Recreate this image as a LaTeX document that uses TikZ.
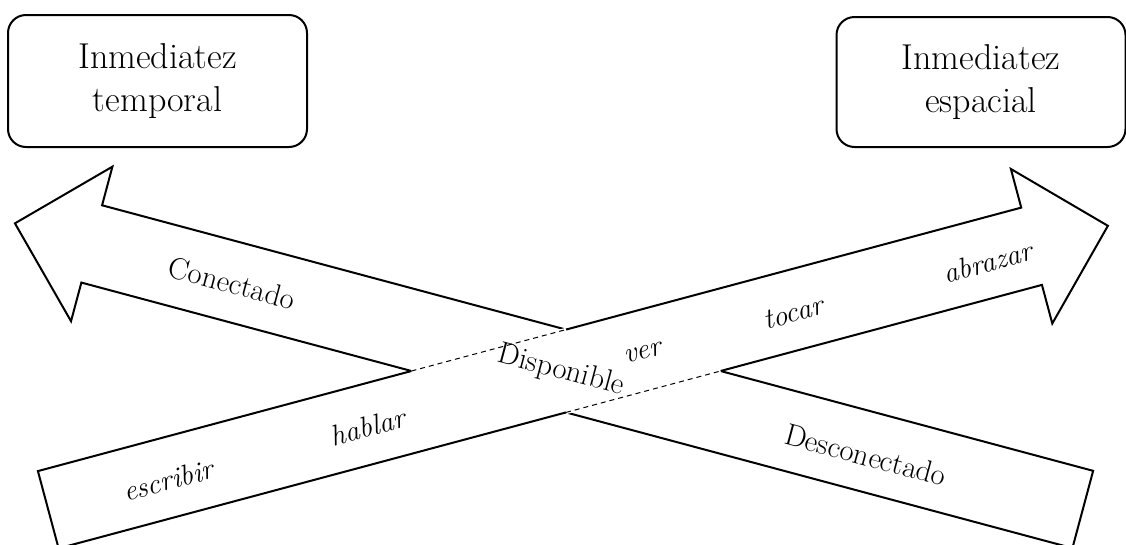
\documentclass[tikz,border=0pt]{standalone}
\usepackage{fontspec}
\tikzset{
  titlebox/.style={draw, line width=2pt, rounded corners=18pt, minimum width=299pt,
    minimum height=132pt, align=center, inner sep=0pt,
    font={\fontsize{36}{43}\selectfont}},
  bigarrow/.style={draw, fill=white, line width=2pt, line join=miter},
  lab/.style={inner sep=0pt, font={\fontsize{30.5}{36}\selectfont}},
  ilab/.style={inner sep=0pt, font={\fontsize{29}{35}\selectfont\itshape}},
  hiddenedge/.style={white, line width=3.6pt},
  dashedge/.style={black, line width=1pt, dash pattern=on 5pt off 4pt}
}
\begin{document}
\begin{tikzpicture}[x=1pt, y=1pt]
  \useasboundingbox (0,0) rectangle (1126,-544);

  % title boxes
  \node[titlebox] (tbox) at (157.5,-81) {Inmediatez\\temporal};
  \node[titlebox, minimum width=289pt, minimum height=130pt] (ebox) at (981,-82) {Inmediatez\\espacial};

  % arrow 1 (pointing to the upper left)
  \begin{scope}[shift={(566,-371)}, rotate=165]
    \draw[bigarrow] (-535,40) -- (491,40) -- (491,80) -- (570.5,0)
      -- (491,-80) -- (491,-40) -- (-535,-40) -- cycle;
  \end{scope}

  % arrow 2 (pointing to the upper right)
  \begin{scope}[shift={(566,-371)}, rotate=15]
    \draw[bigarrow] (-536,40) -- (482,40) -- (482,80) -- (561,0)
      -- (482,-80) -- (482,-40) -- (-536,-40) -- cycle;
    \coordinate (ul) at (-149.3,40);
    \coordinate (ur) at (10.72,40);
    \coordinate (ll) at (-10.72,-40);
    \coordinate (lr) at (149.3,-40);
  \end{scope}

  % edges of arrow 2 seen through arrow 1
  \draw[hiddenedge] (ul) -- (ur);
  \draw[hiddenedge] (ll) -- (lr);
  \draw[dashedge] (ul) -- (ur);
  \draw[dashedge] (ll) -- (lr);

  % labels on arrow 1
  \node[lab, rotate=-15] (con) at (232,-283) {Conectado};
  \node[lab, rotate=-15] (dis) at (561,-371) {Disponible};
  \node[lab, rotate=-15] (des) at (866,-455) {Desconectado};

  % labels on arrow 2
  \node[ilab, rotate=15] (esc) at (168,-480) {escribir};
  \node[ilab, rotate=15] (hab) at (368,-427) {hablar};
  \node[ilab, rotate=15] (ver) at (643,-353) {ver};
  \node[ilab, rotate=15] (toc) at (793,-313) {tocar};
  \node[ilab, rotate=15] (abr) at (988,-262) {abrazar};
\end{tikzpicture}
\end{document}
